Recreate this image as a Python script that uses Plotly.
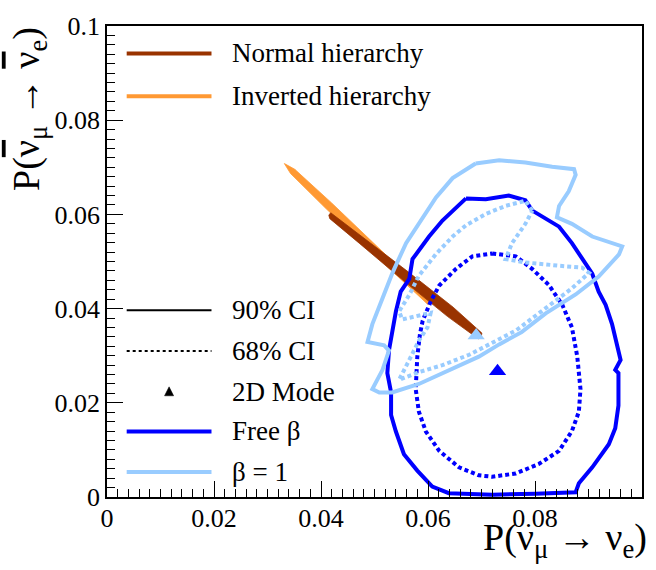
import plotly.graph_objects as go

# ---------------- data ----------------
tick_vals = [0, 0.02, 0.04, 0.06, 0.08, 0.1]
tick_text = ["0", "0.02", "0.04", "0.06", "0.08", "0.1"]

# Free beta, 90% CI contour
free90_x = [0.0671, 0.0708, 0.0751, 0.0782, 0.0795, 0.0820, 0.0845, 0.0869, 0.0888, 0.0907,
            0.0919, 0.0932, 0.0944, 0.0950, 0.0960, 0.0950, 0.0956, 0.0956, 0.0950, 0.0938,
            0.0907, 0.0882, 0.0876, 0.0801, 0.0720, 0.0639, 0.0608, 0.0580, 0.0555, 0.0540,
            0.0531, 0.0531, 0.0524, 0.0527, 0.0531, 0.0540, 0.0549, 0.0565, 0.0571, 0.0602,
            0.0627, 0.0652, 0.0671]
free90_y = [0.0634, 0.0632, 0.0640, 0.0630, 0.0608, 0.0591, 0.0574, 0.0539, 0.0508, 0.0474,
            0.0436, 0.0408, 0.0367, 0.0339, 0.0291, 0.0270, 0.0263, 0.0194, 0.0146, 0.0112,
            0.0063, 0.0029, 0.0010, 0.0007, 0.0005, 0.0008, 0.0022, 0.0056, 0.0091, 0.0139,
            0.0174, 0.0222, 0.0263, 0.0311, 0.0339, 0.0394, 0.0436, 0.0463, 0.0505, 0.0553,
            0.0587, 0.0615, 0.0634]

# Free beta, 68% CI contour
free68_x = [0.0720, 0.0764, 0.0795, 0.0826, 0.0851, 0.0869, 0.0879, 0.0885, 0.0882, 0.0869,
            0.0845, 0.0807, 0.0764, 0.0720, 0.0695, 0.0658, 0.0621, 0.0596, 0.0583, 0.0577,
            0.0580, 0.0585, 0.0590, 0.0605, 0.0621, 0.0652, 0.0683, 0.0720]
free68_y = [0.0517, 0.0511, 0.0484, 0.0450, 0.0408, 0.0360, 0.0298, 0.0229, 0.0181, 0.0140,
            0.0098, 0.0070, 0.0050, 0.0043, 0.0046, 0.0063, 0.0098, 0.0139, 0.0181, 0.0229,
            0.0298, 0.0346, 0.0374, 0.0415, 0.0449, 0.0484, 0.0511, 0.0517]

# beta = 1, 90% CI contour
b1_90_x = [0.0689, 0.0733, 0.0782, 0.0832, 0.0873, 0.0876, 0.0863, 0.0845, 0.0841, 0.0869,
           0.0907, 0.0944, 0.0963, 0.0957, 0.0919, 0.0876, 0.0820, 0.0775, 0.0733, 0.0695,
           0.0634, 0.0583, 0.0533, 0.0509, 0.0496, 0.0515, 0.0527, 0.0518, 0.0487, 0.0496,
           0.0515, 0.0534, 0.0559, 0.0590, 0.0615, 0.0646, 0.0689]
b1_90_y = [0.0708, 0.0715, 0.0710, 0.0701, 0.0696, 0.0684, 0.0649, 0.0618, 0.0594, 0.0580,
           0.0553, 0.0539, 0.0532, 0.0515, 0.0468, 0.0430, 0.0390, 0.0350, 0.0324, 0.0298,
           0.0267, 0.0240, 0.0222, 0.0222, 0.0229, 0.0270, 0.0311, 0.0322, 0.0329, 0.0367,
           0.0422, 0.0477, 0.0539, 0.0594, 0.0636, 0.0677, 0.0708]

# beta = 1, 68% CI contour
b1_68_x = [0.0795, 0.0782, 0.0745, 0.0708, 0.0671, 0.0646, 0.0615, 0.0583, 0.0565, 0.0546,
           0.0552, 0.0583, 0.0605, 0.0599, 0.0583, 0.0565, 0.0552, 0.0546, 0.0583, 0.0627,
           0.0677, 0.0720, 0.0765, 0.0820, 0.0869, 0.0901, 0.0888, 0.0845, 0.0782, 0.0745,
           0.0757, 0.0782, 0.0795]
b1_68_y = [0.0608, 0.0629, 0.0618, 0.0601, 0.0577, 0.0553, 0.0516, 0.0470, 0.0429, 0.0394,
           0.0377, 0.0384, 0.0391, 0.0360, 0.0332, 0.0291, 0.0263, 0.0249, 0.0265, 0.0280,
           0.0302, 0.0327, 0.0354, 0.0401, 0.0443, 0.0476, 0.0487, 0.0491, 0.0498, 0.0505,
           0.0539, 0.0580, 0.0608]

# Normal hierarchy band
nh_x = [0.04181, 0.04784, 0.05630, 0.06470, 0.07007, 0.06991, 0.06937, 0.06362, 0.05535,
        0.04713, 0.04164, 0.04146, 0.04181]
nh_y = [0.06035, 0.05520, 0.04780, 0.04030, 0.03480, 0.03378, 0.03360, 0.03835, 0.04600,
        0.05390, 0.05910, 0.05983, 0.06035]

# Inverted hierarchy band
ih_x = [0.03315, 0.03509, 0.04198, 0.04739, 0.05414, 0.06084, 0.06058, 0.05994, 0.05312,
        0.04634, 0.04093, 0.03431, 0.03315]
ih_y = [0.07080, 0.06958, 0.06244, 0.05661, 0.04931, 0.04194, 0.04101, 0.04091, 0.04813,
        0.05541, 0.06124, 0.06867, 0.07080]

# 2D modes
mode_free = (0.0730, 0.0267)
mode_b1 = (0.0690, 0.0343)

legend_labels = ["Normal hierarchy", "Inverted hierarchy", "90% CI", "68% CI",
                 "2D Mode", "Free β", "β = 1"]

# ---------------- style ----------------
BLUE = "#0000ff"
LBLUE = "#99ccff"
BROWN = "#993300"
ORANGE = "#ff9933"
FONT = "Liberation Serif"

fig = go.Figure()

fig.add_trace(go.Scatter(x=ih_x, y=ih_y, mode="lines", fill="toself", fillcolor=ORANGE,
                         line=dict(color=ORANGE, width=0.8), showlegend=False, hoverinfo="skip"))
fig.add_trace(go.Scatter(x=nh_x, y=nh_y, mode="lines", fill="toself", fillcolor=BROWN,
                         line=dict(color=BROWN, width=0.8), showlegend=False, hoverinfo="skip"))
fig.add_trace(go.Scatter(x=free68_x, y=free68_y, mode="lines",
                         line=dict(color=BLUE, width=4, dash="4px,3px"), showlegend=False))
fig.add_trace(go.Scatter(x=free90_x, y=free90_y, mode="lines",
                         line=dict(color=BLUE, width=4), showlegend=False))
fig.add_trace(go.Scatter(x=b1_68_x, y=b1_68_y, mode="lines",
                         line=dict(color=LBLUE, width=4, dash="4px,3px"), showlegend=False))
fig.add_trace(go.Scatter(x=b1_90_x, y=b1_90_y, mode="lines",
                         line=dict(color=LBLUE, width=4), showlegend=False))
fig.add_trace(go.Scatter(x=[mode_b1[0]], y=[mode_b1[1]], mode="markers",
                         marker=dict(symbol="triangle-up", size=15, color=LBLUE), showlegend=False))
fig.add_trace(go.Scatter(x=[mode_free[0]], y=[mode_free[1]], mode="markers",
                         marker=dict(symbol="triangle-up", size=15, color=BLUE), showlegend=False))

# ---------------- manual legend (paper coords) ----------------
lx0, lx1, tx = 0.0368, 0.1953, 0.2304
rows = [0.9417, 0.8506, 0.3963, 0.3102, 0.2234, 0.1392, 0.0529]
styles = [
    dict(color=BROWN, width=4, dash="solid"),
    dict(color=ORANGE, width=4, dash="solid"),
    dict(color="black", width=2, dash="solid"),
    dict(color="black", width=2, dash="3px,3px"),
    None,
    dict(color=BLUE, width=4, dash="solid"),
    dict(color=LBLUE, width=4, dash="solid"),
]
shapes = []
annotations = []
for lab, yy, st in zip(legend_labels, rows, styles):
    if st is not None:
        shapes.append(dict(type="line", xref="paper", yref="paper", x0=lx0, x1=lx1,
                           y0=yy, y1=yy, line=st))
    else:
        cx = (lx0 + lx1) / 2
        shapes.append(dict(type="path", xref="paper", yref="paper",
                           path=f"M {cx-0.0085} {yy-0.0085} L {cx+0.0085} {yy-0.0085} "
                                f"L {cx} {yy+0.0105} Z",
                           fillcolor="black", line=dict(color="black", width=0.5)))
    annotations.append(dict(text=lab, xref="paper", yref="paper", x=tx, y=yy,
                            xanchor="left", yanchor="middle", showarrow=False,
                            font=dict(family=FONT, size=27, color="black")))

bar_nu = '<span style="text-decoration:overline">ν</span>'
annotations.append(dict(text="P(ν<sub>μ</sub> → ν<sub>e</sub>)", xref="paper", yref="paper",
                        x=1.014, y=-0.147, xanchor="right", yanchor="bottom", showarrow=False,
                        font=dict(family=FONT, size=38, color="black")))
annotations.append(dict(text=f"P({bar_nu}<sub>μ</sub> → {bar_nu}<sub>e</sub>)",
                        xref="paper", yref="paper",
                        x=-0.146, y=1.002, xanchor="center", yanchor="top", showarrow=False,
                        textangle=-90, font=dict(family=FONT, size=38, color="black")))

axis_common = dict(range=[0, 0.1], tickvals=tick_vals, ticktext=tick_text,
                   ticks="inside", ticklen=16, tickwidth=1, tickcolor="black",
                   showline=True, linecolor="black", linewidth=1.5, mirror=True,
                   showgrid=False, zeroline=False,
                   tickfont=dict(family=FONT, size=26, color="black"),
                   minor=dict(dtick=0.002, ticks="inside", ticklen=8, tickwidth=1,
                              tickcolor="black", showgrid=False))

fig.update_layout(
    width=656, height=570,
    margin=dict(l=107, r=13, t=14, b=73),
    paper_bgcolor="white", plot_bgcolor="white",
    showlegend=False,
    xaxis=dict(axis_common, ticklabelstandoff=-3),
    yaxis=axis_common,
    shapes=shapes,
    annotations=annotations,
)

fig.write_html("out.html", config={"displayModeBar": False},
               post_script="document.body.style.margin='0';")
